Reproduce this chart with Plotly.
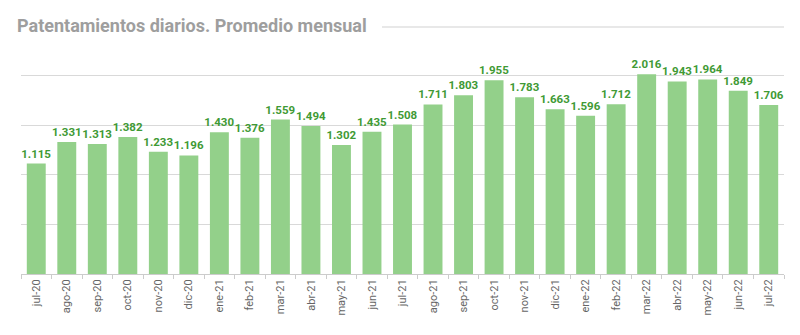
import plotly.graph_objects as go

months = ["jul-20", "ago-20", "sep-20", "oct-20", "nov-20", "dic-20", "ene-21", "feb-21",
          "mar-21", "abr-21", "may-21", "jun-21", "jul-21", "ago-21", "sep-21", "oct-21",
          "nov-21", "dic-21", "ene-22", "feb-22", "mar-22", "abr-22", "may-22", "jun-22", "jul-22"]
values = [1115, 1331, 1313, 1382, 1233, 1196, 1430, 1376, 1559, 1494, 1302, 1435, 1508,
          1711, 1803, 1955, 1783, 1663, 1596, 1712, 2016, 1943, 1964, 1849, 1706]
labels = [f"{v:,}".replace(",", ".") for v in values]

W, H = 800, 335
ML, MR, MT, MB = 21, 16, 56, 61

fig = go.Figure(go.Bar(
    x=months, y=values, text=labels, textposition="outside",
    constraintext="none",
    marker=dict(color="#93d08a", line=dict(width=0)),
    textfont=dict(family="Roboto", size=11.5, color="#3f9a35", weight="bold"),
    cliponaxis=False,
))

fig.update_layout(
    width=W, height=H,
    margin=dict(l=ML, r=MR, t=MT, b=MB),
    plot_bgcolor="white", paper_bgcolor="white",
    bargap=0.38, showlegend=False,
    font=dict(family="Roboto"),
    title=dict(text="<b>Patentamientos diarios. Promedio mensual</b>",
               x=17 / W, xanchor="left", xref="container",
               y=1 - 26 / H, yanchor="middle", yref="container",
               font=dict(family="Roboto", size=18, color="#9e9e9e")),
    xaxis=dict(showline=True, linecolor="#cccccc", linewidth=1,
               ticks="outside", tickson="boundaries", ticklen=4, tickcolor="#cccccc",
               tickangle=-90, tickfont=dict(family="Roboto", size=11, color="#666666"),
               showgrid=False),
    yaxis=dict(range=[0, 2200], dtick=500, showticklabels=False,
               showgrid=True, gridcolor="#d9d9d9", gridwidth=1, zeroline=False),
)

pw = W - ML - MR
ph = H - MT - MB
fig.add_shape(type="line", xref="paper", yref="paper",
              x0=(382 - ML) / pw, x1=(784 - ML) / pw,
              y0=(H - MB - 27) / ph, y1=(H - MB - 27) / ph,
              line=dict(color="#e0e0e0", width=1.5))

fig.write_html("out.html")
